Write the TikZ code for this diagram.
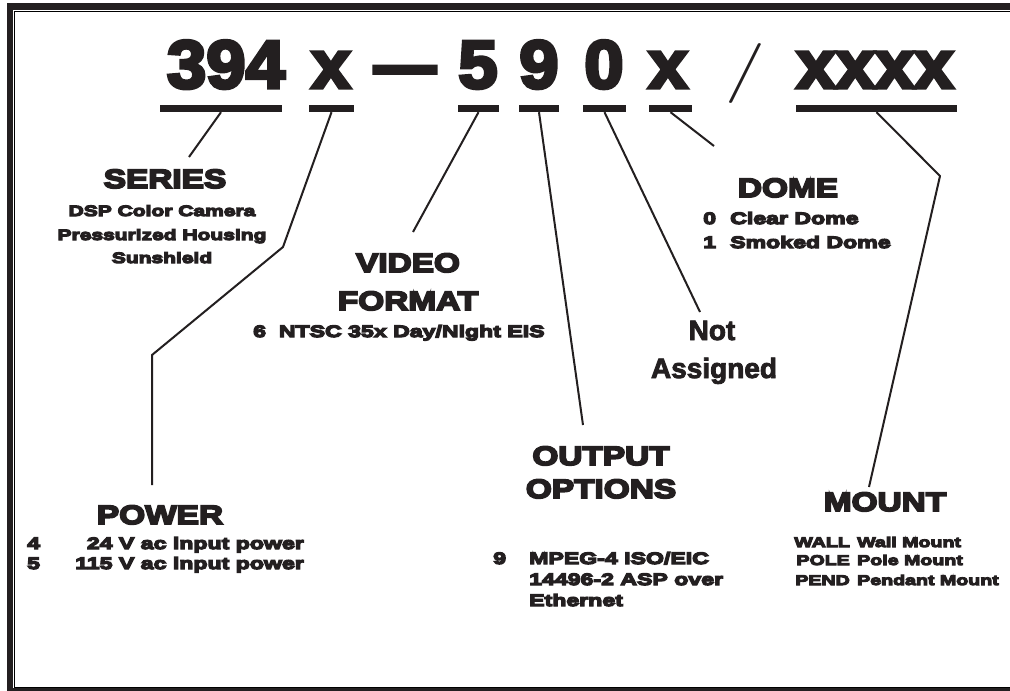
\documentclass[tikz,border=0pt]{standalone}
\usepackage{fontspec}
\newfontfamily\hdrfont{Liberation Sans Bold}[FakeStretch=1.04,FakeBold=5]
\newfontfamily\headfont{Liberation Sans Bold}[FakeStretch=1.26,FakeBold=7]
\newfontfamily\bodyfont{Liberation Sans Bold}[FakeStretch=1.4,FakeBold=8]
\newfontfamily\nafont{Liberation Sans Bold}[FakeBold=3]
\definecolor{ink}{HTML}{231F20}
\definecolor{shade}{HTML}{B4B4B4}
\begin{document}
\begin{tikzpicture}[x=1pt,y=-1pt,
  ul/.style={rectangle,fill=ink,draw=none,inner sep=0pt,minimum height=7pt},
  conn/.style={draw=ink,line width=2pt,line join=round},
  lbl/.style={text=ink,inner sep=0pt,anchor=base},
  code/.style={lbl,font=\hdrfont\fontsize{68}{68}\selectfont},
  head/.style={lbl,font=\headfont\fontsize{26.5}{26.5}\selectfont},
  body/.style={lbl,font=\bodyfont\fontsize{16.5}{16.5}\selectfont},
  mid/.style={lbl,font=\bodyfont\fontsize{15}{15}\selectfont},
  small/.style={lbl,font=\bodyfont\fontsize{14}{14}\selectfont},
  big/.style={lbl,font=\nafont\fontsize{28}{28}\selectfont}]
\useasboundingbox (0,0) rectangle (1010,691);
% frame
\fill[white] (0,0) rectangle (1010,691);
\fill[ink] (7,3) rectangle (1010,10);
\fill[ink] (7,3) rectangle (13,691);
\fill[ink] (7,688) rectangle (1010,691);
\draw[shade,line width=1pt] (14,11) -- (1010,11);
\draw[shade,line width=1pt] (14,11) -- (14,687);
\draw[shade,line width=1pt] (14,687) -- (1010,687);
% model code
\node[code] (c394) at (226,88) {394};
\node[code] (cx1) at (331,88) {x};
\node[code] (cdash) at (405,88) {\scalebox{0.88}[1]{—}};
\node[code] (c5) at (478,88) {5};
\node[code] (c9) at (539,88) {9};
\node[code] (c0) at (604,88) {0};
\node[code] (cx2) at (668,88) {x};
\node[lbl,font=\fontsize{60}{60}\selectfont] (cslash) at (745,88) {\scalebox{1.45}[1]{/}};
\node[code] (cx4) at (875,88) {xxxx};
% underlines
\node[ul,minimum width=122pt] (u1) at (221,108.5) {};
\node[ul,minimum width=45pt] (u2) at (331.5,108.5) {};
\node[ul,minimum width=41pt] (u5) at (478.5,108.5) {};
\node[ul,minimum width=40pt] (u9) at (539,108.5) {};
\node[ul,minimum width=43pt] (u0) at (604.5,108.5) {};
\node[ul,minimum width=43pt] (ux) at (670.5,108.5) {};
\node[ul,minimum width=161pt] (u4) at (876.5,108.5) {};
% connector ends
\coordinate (eSer) at (189,157);
\coordinate (p1) at (283,247);
\coordinate (p2) at (152,355);
\coordinate (ePow) at (152,485);
\coordinate (eVid) at (413,232);
\coordinate (eOut) at (583,425);
\coordinate (eNA) at (700,312);
\coordinate (eDome) at (714,146);
\coordinate (m1) at (940,176);
\coordinate (eMnt) at (869,487);
\draw[conn] (u1.south) -- (eSer);
\draw[conn] (u2.south) -- (p1) -- (p2) -- (ePow);
\draw[conn] (u5.south) -- (eVid);
\draw[conn] (u9.south) -- (eOut);
\draw[conn] (u0.south) -- (eNA);
\draw[conn] (ux.south) -- (eDome);
\draw[conn] (u4.south) -- (m1) -- (eMnt);
% SERIES
\node[head] (ser) at (165,188) {SERIES};
\node[mid] (ser1) at (162,216) {DSP Color Camera};
\node[mid] (ser2) at (162,240) {Pressurized Housing};
\node[mid] (ser3) at (162,263) {Sunshield};
% VIDEO FORMAT
\node[head] (vid1) at (408,272) {VIDEO};
\node[head] (vid2) at (408,310) {FORMAT};
\node[body,anchor=base west] (vid3) at (253,337) {6~~NTSC 35x Day/Night EIS};
% DOME
\node[head] (dome) at (788,197) {DOME};
\node[body,anchor=base west] (d0) at (703,224) {0};
\node[body,anchor=base west] (d0t) at (730,224) {Clear Dome};
\node[body,anchor=base west] (d1) at (703,248) {1};
\node[body,anchor=base west] (d1t) at (730,248) {Smoked Dome};
% NOT ASSIGNED
\node[big] (na1) at (712,340) {Not};
\node[big] (na2) at (714,378) {Assigned};
% OUTPUT OPTIONS
\node[head] (out1) at (601,465) {OUTPUT};
\node[head] (out2) at (601,498) {OPTIONS};
\node[body,anchor=base west] (o9) at (493,564) {9};
\node[body,anchor=base west] (o1) at (529,564) {MPEG-4 ISO/EIC};
\node[body,anchor=base west] (o2) at (529,585) {14496-2 ASP over};
\node[body,anchor=base west] (o3) at (529,606) {Ethernet};
% POWER
\node[head] (pow) at (160,524) {POWER};
\node[body,anchor=base west] (p4) at (27,549) {4};
\node[body,anchor=base east] (p4t) at (304,549) {24 V ac input power};
\node[body,anchor=base west] (p5) at (27,569) {5};
\node[body,anchor=base east] (p5t) at (304,569) {115 V ac input power};
% MOUNT
\node[head] (mnt) at (885,511) {MOUNT};
\node[small,anchor=base east] (mw) at (850,547) {WALL};
\node[small,anchor=base west] (mwt) at (857,547) {Wall Mount};
\node[small,anchor=base east] (mp) at (850,565) {POLE};
\node[small,anchor=base west] (mpt) at (857,565) {Pole Mount};
\node[small,anchor=base east] (md) at (850,585) {PEND};
\node[small,anchor=base west] (mdt) at (857,585) {Pendant Mount};
\end{tikzpicture}
\end{document}
